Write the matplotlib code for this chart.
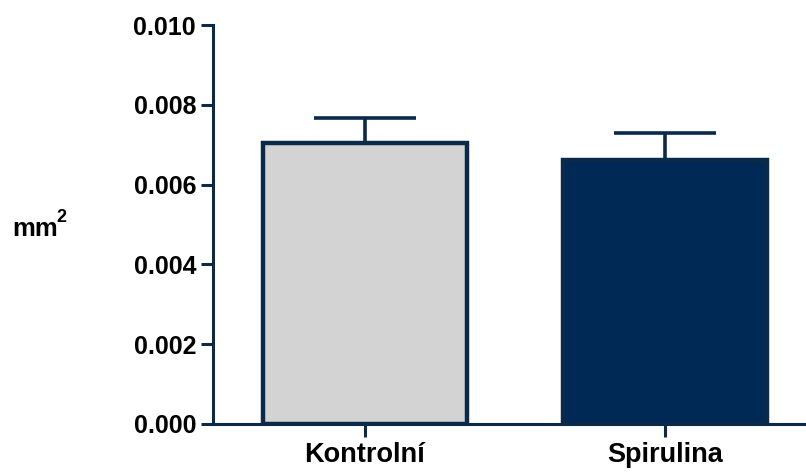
"""Bar chart: Kontrolní vs Spirulina (mm2)."""

import matplotlib
matplotlib.use("Agg")
import matplotlib.pyplot as plt  # type: ignore

categories = ["Kontrolní", "Spirulina"]
means = [0.00704, 0.00662]
sem = [0.00063, 0.00067]
fill_colors = ["#d3d3d3", "#002a55"]
edge_color = "#0b2a4a"

yticks = [0.000, 0.002, 0.004, 0.006, 0.008, 0.010]
ytick_labels = ["0.000", "0.002", "0.004", "0.006", "0.008", "0.010"]


def main() -> None:
    plt.rcParams["font.family"] = ["Liberation Sans", "DejaVu Sans"]
    plt.rcParams["font.weight"] = "bold"

    fig = plt.figure(figsize=(8.06, 4.73), dpi=100)
    ax = fig.add_axes([0.264, 0.1036, 0.736, 0.8435])

    x = list(range(len(categories)))
    ax.errorbar(x, means, yerr=[[0] * len(sem), sem], fmt="none",
                ecolor=edge_color, elinewidth=2.6, capsize=37, capthick=2.6,
                zorder=1)
    ax.bar(x, means, width=0.68, color=fill_colors, edgecolor=edge_color,
           linewidth=3.2, zorder=2)

    ax.set_xlim(-0.507, 1.47)
    ax.set_ylim(0, 0.010)
    ax.set_yticks(yticks)
    ax.set_yticklabels(ytick_labels, fontsize=18, fontweight="bold")
    ax.set_xticks(x)
    ax.set_xticklabels(categories, fontsize=19.5, fontweight="bold")

    for side in ("top", "right"):
        ax.spines[side].set_visible(False)
    for side in ("left", "bottom"):
        ax.spines[side].set_linewidth(2.2)
        ax.spines[side].set_color(edge_color)
    ax.tick_params(axis="both", width=2.2, length=9, color=edge_color,
                   direction="out")
    ax.tick_params(axis="y", pad=3)
    ax.tick_params(axis="x", pad=4)

    fig.text(0.015, 0.515, "mm", fontsize=18.5, fontweight="bold",
             ha="left", va="center")
    fig.text(0.0700, 0.540, "2", fontsize=13, fontweight="bold",
             ha="left", va="center")

    fig.savefig("out.png", dpi=100)
    plt.close(fig)


if __name__ == "__main__":
    main()
